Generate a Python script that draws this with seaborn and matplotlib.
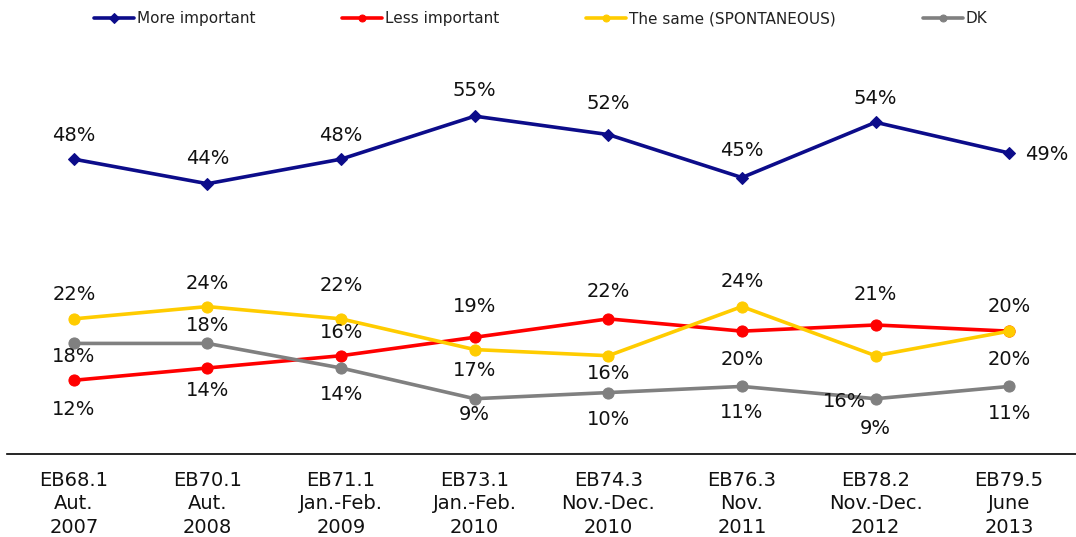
import matplotlib
matplotlib.use("Agg")
import matplotlib.pyplot as plt
import seaborn as sns
import pandas as pd

# Survey waves
waves = ["EB68.1\nAut.\n2007", "EB70.1\nAut.\n2008", "EB71.1\nJan.-Feb.\n2009",
         "EB73.1\nJan.-Feb.\n2010", "EB74.3\nNov.-Dec.\n2010", "EB76.3\nNov.\n2011",
         "EB78.2\nNov.-Dec.\n2012", "EB79.5\nJune\n2013"]

# Answer shares (%)
more_important = [48, 44, 48, 55, 52, 45, 54, 49]
less_important = [12, 14, 16, 19, 22, 20, 21, 20]
the_same = [22, 24, 22, 17, 16, 24, 16, 20]
dont_know = [18, 18, 14, 9, 10, 11, 9, 11]

series_names = ["More important", "Less important", "The same (SPONTANEOUS)", "DK"]
series_values = [more_important, less_important, the_same, dont_know]

colors = ["#0c0c8a", "#ff0000", "#ffcc00", "#808080"]
markers = ["D", "o", "o", "o"]
marker_sizes = [6, 8, 8, 8]

# Label offsets in pixels (dx, dy) for each point of each series
label_offsets = [
    [(0, 24), (0, 25), (0, 24), (0, 26), (0, 31), (0, 27), (0, 24), (38, -2)],
    [(0, -29), (0, -23), (0, 23), (0, 31), (0, 27), (0, -28), (0, 30), (0, 25)],
    [(0, 24), (0, 23), (0, 33), (0, -21), (0, -18), (0, 25), (-31, -46), (0, -28)],
    [(0, -13), (0, 18), (0, -27), (0, -16), (0, -27), (0, -26), (0, -30), (0, -27)],
]

sns.set_theme(style="white")
plt.rcParams["font.family"] = ["DejaVu Sans"]

fig = plt.figure(figsize=(10.76, 5.37), dpi=100)
ax = fig.add_axes([7 / 1076, 83 / 537, 1 - 7 / 1076, (454 - 24) / 537])

x = list(range(len(waves)))
for name, vals, col, mk, ms, offs in zip(series_names, series_values, colors,
                                          markers, marker_sizes, label_offsets):
    df = pd.DataFrame({"x": x, "value": vals})
    sns.lineplot(data=df, x="x", y="value", ax=ax, color=col, marker=mk,
                 markersize=ms, markeredgecolor=col, linewidth=2.6, label=name)
    for xi, v, (dx, dy) in zip(x, vals, offs):
        ax.annotate(f"{v}%", (xi, v), xytext=(dx, dy), textcoords="offset pixels",
                    ha="center", va="center", fontsize=14, color="#111111")

ax.set_xlim(-0.5, 7.5)
ax.set_ylim(0, 70)
ax.set_xticks(x)
ax.set_xticklabels(waves, fontsize=14, linespacing=1.32, color="#111111")
ax.set_yticks([])
ax.set_xlabel("")
ax.set_ylabel("")
ax.tick_params(axis="x", length=0, pad=12)
for side in ["top", "left", "right"]:
    ax.spines[side].set_visible(False)
ax.spines["bottom"].set_color("#000000")
ax.spines["bottom"].set_linewidth(1.2)

leg = ax.legend(loc="upper left", bbox_to_anchor=(94 / 1076, 1 - 11 / 537),
                bbox_transform=fig.transFigure, ncol=4, frameon=False,
                fontsize=11, handlelength=2.6, handletextpad=0.2,
                columnspacing=5.7, borderaxespad=0, borderpad=0)
for h in leg.legend_handles:
    h.set_markersize(5)
for t in leg.get_texts():
    t.set_color("#222222")

fig.savefig("out.png", dpi=100)
